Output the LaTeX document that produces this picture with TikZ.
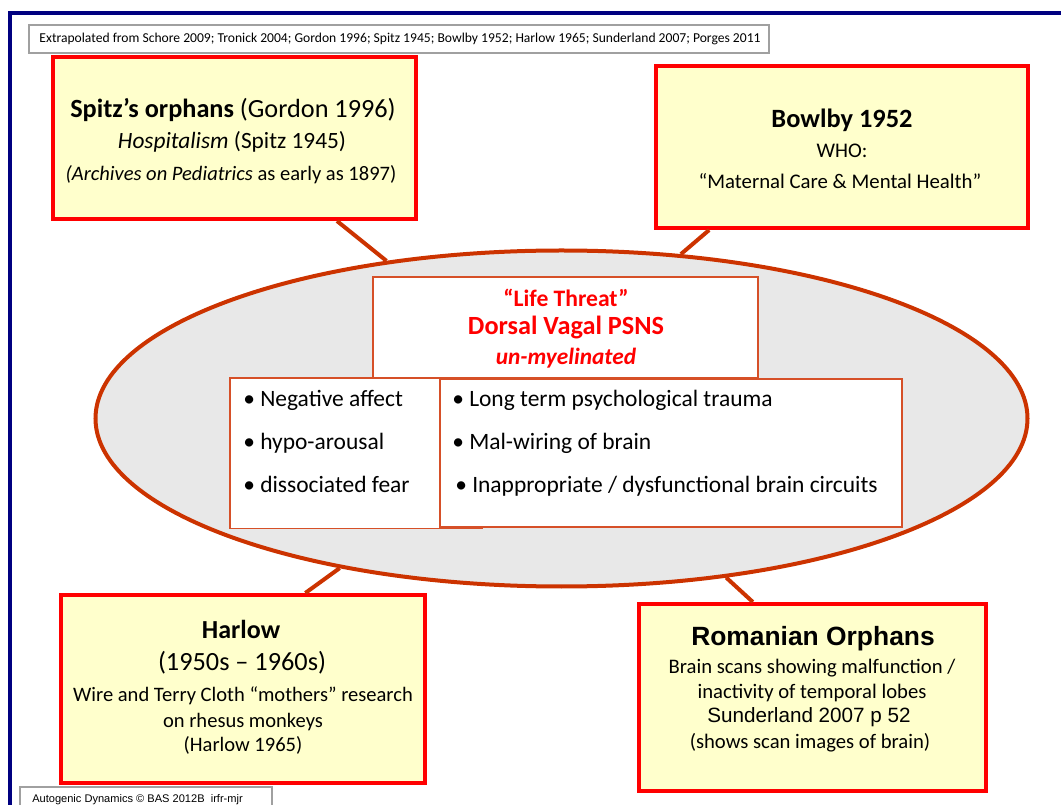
\documentclass[tikz,border=0pt]{standalone}
\usepackage{fontspec}
\setmainfont{Carlito}
\newfontfamily\arialf{Liberation Sans}
\usetikzlibrary{shapes.geometric,fit}
\definecolor{navyc}{RGB}{0,0,128}
\definecolor{boxred}{RGB}{255,0,0}
\definecolor{boxfill}{RGB}{255,255,204}
\definecolor{ellline}{RGB}{204,51,0}
\definecolor{ellfill}{RGB}{232,232,232}
\definecolor{innerline}{RGB}{214,80,40}
\definecolor{grayline}{RGB}{160,160,160}
\definecolor{titlered}{RGB}{255,0,0}
\newcommand\fsz[1]{\fontsize{#1}{#1}\selectfont}
\begin{document}
\begin{tikzpicture}[x=0.75pt,y=-0.75pt,
  redbox/.style={draw=boxred, fill=boxfill, line width=3pt, inner sep=0pt},
  innerbox/.style={draw=innerline, fill=white, line width=0.8pt, inner sep=0pt},
  graybox/.style={draw=grayline, fill=white, line width=0.8pt, inner sep=0pt},
  conn/.style={draw=ellline, line width=3pt},
  txt/.style={anchor=mid, inner sep=0pt, text=black},
  ltxt/.style={anchor=mid west, inner sep=0pt, text=black},
  rtxt/.style={anchor=mid, inner sep=0pt, text=titlered},
]
\useasboundingbox (0,0) rectangle (1061,805);
% frame
\draw[navyc, line width=2.3pt] (10,820) -- (10,13) -- (1070,13);
% source box
\node[graybox, fit={(29,25) (769,53)}] (src) {};
\node[txt, font=\fsz{10.2}] (srct) at (400,39.5) {Extrapolated from Schore 2009; Tronick 2004; Gordon 1996; Spitz 1945; Bowlby 1952; Harlow 1965; Sunderland 2007; Porges 2011};
% ellipse
\node[ellipse, draw=ellline, fill=ellfill, line width=3pt, minimum width=699pt, minimum height=252pt, inner sep=0pt] (ell) at (561.5,418.5) {};
% outer boxes
\node[redbox, fit={(53,57) (416,219)}] (spitz) {};
\node[redbox, fit={(656,66) (1028,228)}] (bowlby) {};
\node[redbox, fit={(61,595) (425,783)}] (harlow) {};
\node[redbox, fit={(639,604) (986,791)}] (roman) {};
% connectors
\draw[conn] (spitz.-39.4) -- (ell.138.1);
\draw[conn] (bowlby.-148.85) -- (ell.54.5);
\draw[conn] (harlow.57.45) -- (ell.214.2);
\draw[conn] (roman.122.5) -- (ell.316.1);
% inner boxes
\node[innerbox, fit={(373,277) (758,378)}] (top) {};
\node[innerbox, fit={(230,378) (482,528.5)}] (left) {};
\node[innerbox, fit={(440,379) (902,527)}] (right) {};
% center texts
\node[rtxt, font=\fsz{17.7}\bfseries] (c1) at (566,303.5) {“Life Threat”};
\node[rtxt, font=\fsz{19.7}\bfseries] (c2) at (566,331.5) {Dorsal Vagal PSNS};
\node[rtxt, font=\fsz{17.5}\bfseries\itshape] (c3) at (566,361.5) {un-myelinated};
% lists
\node[ltxt, font=\fsz{17.6}] (l1) at (243,403.5) {• Negative affect};
\node[ltxt, font=\fsz{17.6}] (l2) at (243,446.5) {• hypo-arousal};
\node[ltxt, font=\fsz{17.6}] (l3) at (243,489.5) {• dissociated fear};
\node[ltxt, font=\fsz{17.6}] (r1) at (452,403.5) {• Long term psychological trauma};
\node[ltxt, font=\fsz{17.6}] (r2) at (452,446.5) {• Mal-wiring of brain};
\node[ltxt, font=\fsz{17.6}] (r3) at (455,489.5) {• Inappropriate / dysfunctional brain circuits};
% Spitz texts
\node[txt, font=\fsz{19.7}] (s1) at (233,114.5) {\textbf{Spitz’s orphans} (Gordon 1996)};
\node[txt, font=\fsz{17.5}] (s2) at (232,145.5) {\textit{Hospitalism} (Spitz 1945)};
\node[txt, font=\fsz{15.4}] (s3) at (231,177.5) {\textit{(Archives on Pediatrics} as early as 1897)};
% Bowlby texts
\node[txt, font=\fsz{19.8}\bfseries] (b1) at (842,124.5) {Bowlby 1952};
\node[txt, font=\fsz{15.6}] (b2) at (842,154.5) {WHO:};
\node[txt, font=\fsz{15.6}] (b3) at (840,185.5) {“Maternal Care \& Mental Health”};
% Harlow texts
\node[txt, font=\fsz{19.5}\bfseries] (h1) at (241,635) {Harlow};
\node[txt, font=\fsz{19.7}] (h2) at (242,667.5) {(1950s – 1960s)};
\node[txt, font=\fsz{15.4}] (h3) at (243,698.5) {Wire and Terry Cloth “mothers” research};
\node[txt, font=\fsz{15.4}] (h4) at (243,724.5) {on rhesus monkeys};
\node[txt, font=\fsz{15.4}] (h5) at (243,748.5) {(Harlow 1965)};
% Romanian texts
\node[txt, font=\arialf\fsz{19.8}\bfseries] (o1) at (813,642.5) {Romanian Orphans};
\node[txt, font=\fsz{15.5}] (o2) at (812,670.5) {Brain scans showing malfunction /};
\node[txt, font=\fsz{15.5}] (o3) at (812,695.5) {inactivity of temporal lobes};
\node[txt, font=\arialf\fsz{15.5}] (o4) at (809,719.5) {Sunderland 2007 p 52};
\node[txt, font=\fsz{15.5}] (o5) at (810,745.5) {(shows scan images of brain)};
% footer
\node[graybox, fit={(20,787) (272,815)}] (foot) {};
\node[ltxt, font=\arialf\fsz{8.3}] (foott) at (32,799.5) {Autogenic Dynamics © BAS 2012B\ \ irfr-mjr};
\end{tikzpicture}
\end{document}
